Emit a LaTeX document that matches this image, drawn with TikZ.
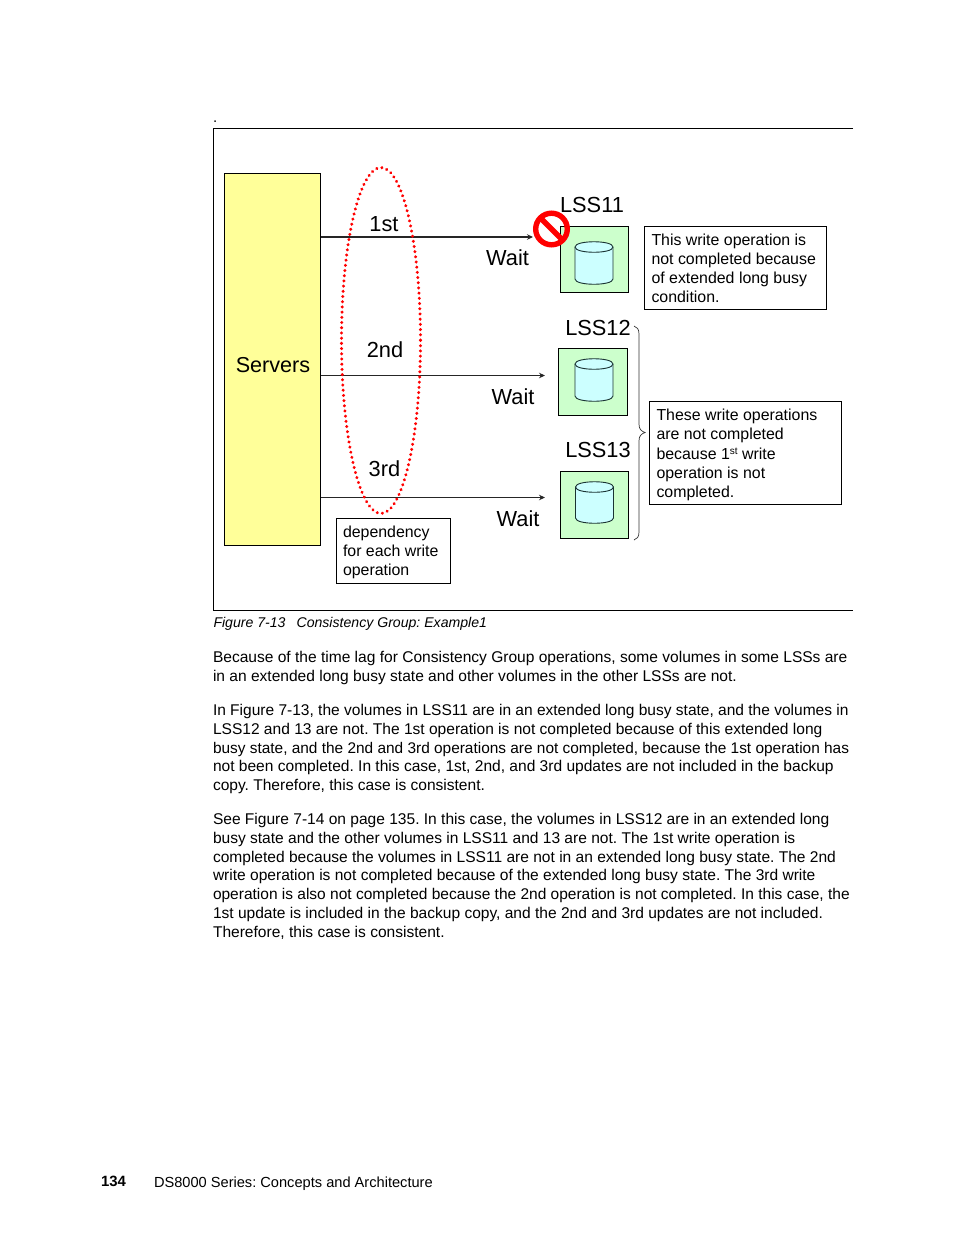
\documentclass[tikz,border=0pt]{standalone}
\usepackage{fontspec}
\setmainfont{Liberation Sans}
\usetikzlibrary{calc,arrows.meta}
\newcommand{\fs}[1]{\fontsize{#1}{#1}\selectfont}
% centre x, top of the sides, bottom of the sides
\newcommand{\cylinderat}[3]{%
  \path[fill=cyl,draw=cylline,line width=.9pt] (#1-19,#2) -- (#1-19,#3) .. controls (#1-19,#3+7) and (#1+19,#3+7) .. (#1+19,#3) -- (#1+19,#2) .. controls (#1+19,#2-7) and (#1-19,#2-7) .. (#1-19,#2) -- cycle;
  \draw[draw=cylline,line width=.9pt] (#1-19,#2) .. controls (#1-19,#2+7) and (#1+19,#2+7) .. (#1+19,#2);}
\definecolor{srv}{HTML}{FFFF99}
\definecolor{lss}{HTML}{CCFFCC}
\definecolor{cyl}{HTML}{CCFFFF}
\definecolor{cylline}{HTML}{1A3333}
\tikzset{
  x=1pt,y=-1pt,
  body/.style={anchor=base west,inner sep=0pt,outer sep=0pt,font=\fs{15.55}},
  note/.style={anchor=base west,inner sep=0pt,outer sep=0pt,font=\fs{15.9}},
  lab/.style={anchor=base,inner sep=0pt,font=\fs{21.8}},
  boxtxt/.style={draw=black,line width=.9pt,anchor=north west,inner sep=0pt,outer sep=0pt},
  lssbox/.style={draw=black,line width=.9pt,fill=lss,anchor=north west,inner sep=0pt,outer sep=0pt},
  link/.style={line width=1.1pt,draw=black!85},
  arr/.style={link,-{Stealth[length=6pt,width=5.5pt]}},
}
\frenchspacing
\begin{document}
\begin{tikzpicture}
\useasboundingbox (0,0) rectangle (954,1235);
\node[body,font=\fs{15}] (dot) at (213,122) {.};
\draw[line width=.9pt] (853,128) -- (213,128) -- (213,610.5) -- (853,610.5);
\node[draw=black,line width=.9pt,fill=srv,minimum width=96pt,minimum height=372pt,anchor=north west,inner sep=0pt,outer sep=0pt] (servers) at (224.5,173.5) {};
\node[font=\fs{21.6},inner sep=0pt] (srvlab) at (273,365) {Servers};
\coordinate (e1) at (533,237);
\coordinate (e2) at (545,375.5);
\coordinate (e3) at (545,497.5);
\coordinate (s1) at (320.5,237);
\coordinate (s2) at (320.5,375.5);
\coordinate (s3) at (320.5,497.5);
\draw[arr] (s1) -- (e1);
\draw[arr] (s2) -- (e2);
\draw[arr] (s3) -- (e3);
\draw[red,line width=3.3pt,line cap=round,dash pattern=on 0.01pt off 5.2pt] (381,340.5) ellipse [x radius=39.5,y radius=173];
\node[lab] (first) at (384,231) {1st};
\node[lab] (second) at (385,357) {2nd};
\node[lab] (third) at (384.5,476) {3rd};
\node[lab] (w1) at (507.5,265) {Wait};
\node[lab] (w2) at (513,404) {Wait};
\node[lab] (w3) at (518,526) {Wait};
\node[lab] (l11) at (592,212) {LSS11};
\node[lab] (l12) at (598,335) {LSS12};
\node[lab] (l13) at (598,457) {LSS13};
\node[lssbox,minimum width=68pt,minimum height=66pt] (b11) at (560.5,226.5) {};
\node[lssbox,minimum width=68.5pt,minimum height=67pt] (b12) at (558.5,348.5) {};
\node[lssbox,minimum width=67.5pt,minimum height=66.5pt] (b13) at (560.5,471.5) {};
\cylinderat{594}{247}{279}
\cylinderat{594}{364}{396}
\cylinderat{594.5}{487}{518}
\draw[red,line width=5.4pt] (551.5,229) circle (15.8);
\draw[red,line width=5.4pt] (540.3,217.8) -- (562.7,240.2);
\node[boxtxt,minimum width=182pt,minimum height=83pt] (note1) at (644.5,226.5) {};
\node[note] (n1a) at (651.5,245) {This write operation is};
\node[note] (n1b) at (651.5,264) {not completed because};
\node[note] (n1c) at (651.5,283) {of extended long busy};
\node[note] (n1d) at (651.5,302) {condition.};
\node[boxtxt,minimum width=192pt,minimum height=103pt] (note2) at (649.5,401.5) {};
\node[note] (n2a) at (656.5,420) {These write operations};
\node[note] (n2b) at (656.5,439) {are not completed};
\node[note] (n2c) at (656.5,459) {because 1\raisebox{5pt}{\fs{10}st} write};
\node[note] (n2d) at (656.5,478) {operation is not};
\node[note] (n2e) at (656.5,497) {completed.};
\node[boxtxt,minimum width=114pt,minimum height=65pt] (note3) at (336.5,518.5) {};
\node[note] (n3a) at (343,537) {dependency};
\node[note] (n3b) at (343,556) {for each write};
\node[note] (n3c) at (343,575) {operation};
\draw[line width=.7pt,draw=black!80] (634,326) .. controls (637,327) and (639,329) .. (639,334) -- (639,424) .. controls (639,429) and (641,431) .. (645,432.5) .. controls (641,434) and (639,436) .. (639,441) -- (639,532) .. controls (639,537) and (637,539) .. (634,540);
\node[body,font=\fs{14.1}\itshape] (cap) at (213.5,627) {Figure 7-13\hspace{11pt}Consistency Group: Example1};
\node[body] (t01) at (213,662) {Because of the time lag for Consistency Group operations, some volumes in some LSSs are};
\node[body] (t02) at (213,681) {in an extended long busy state and other volumes in the other LSSs are not.};
\node[body,font=\fs{15.52}] (t03) at (213,715) {In Figure 7-13, the volumes in LSS11 are in an extended long busy state, and the volumes in};
\node[body] (t04) at (213,734) {LSS12 and 13 are not. The 1st operation is not completed because of this extended long};
\node[body,font=\fs{15.42}] (t05) at (213,753) {busy state, and the 2nd and 3rd operations are not completed, because the 1st operation has};
\node[body] (t06) at (213,771) {not been completed. In this case, 1st, 2nd, and 3rd updates are not included in the backup};
\node[body] (t07) at (213,790) {copy. Therefore, this case is consistent.};
\node[body] (t08) at (213,824) {See Figure 7-14 on page 135. In this case, the volumes in LSS12 are in an extended long};
\node[body] (t09) at (213,843) {busy state and the other volumes in LSS11 and 13 are not. The 1st write operation is};
\node[body] (t10) at (213,862) {completed because the volumes in LSS11 are not in an extended long busy state. The 2nd};
\node[body] (t11) at (213,880) {write operation is not completed because of the extended long busy state. The 3rd write};
\node[body,font=\fs{15.5}] (t12) at (213,899) {operation is also not completed because the 2nd operation is not completed. In this case, the};
\node[body] (t13) at (213,918) {1st update is included in the backup copy, and the 2nd and 3rd updates are not included.};
\node[body] (t14) at (213,937) {Therefore, this case is consistent.};
\node[body,font=\fs{14.9}\bfseries] (pg) at (101,1186.5) {134};
\node[body,font=\fs{14.62}] (foot) at (154,1187) {DS8000 Series: Concepts and Architecture};
\end{tikzpicture}
\end{document}
